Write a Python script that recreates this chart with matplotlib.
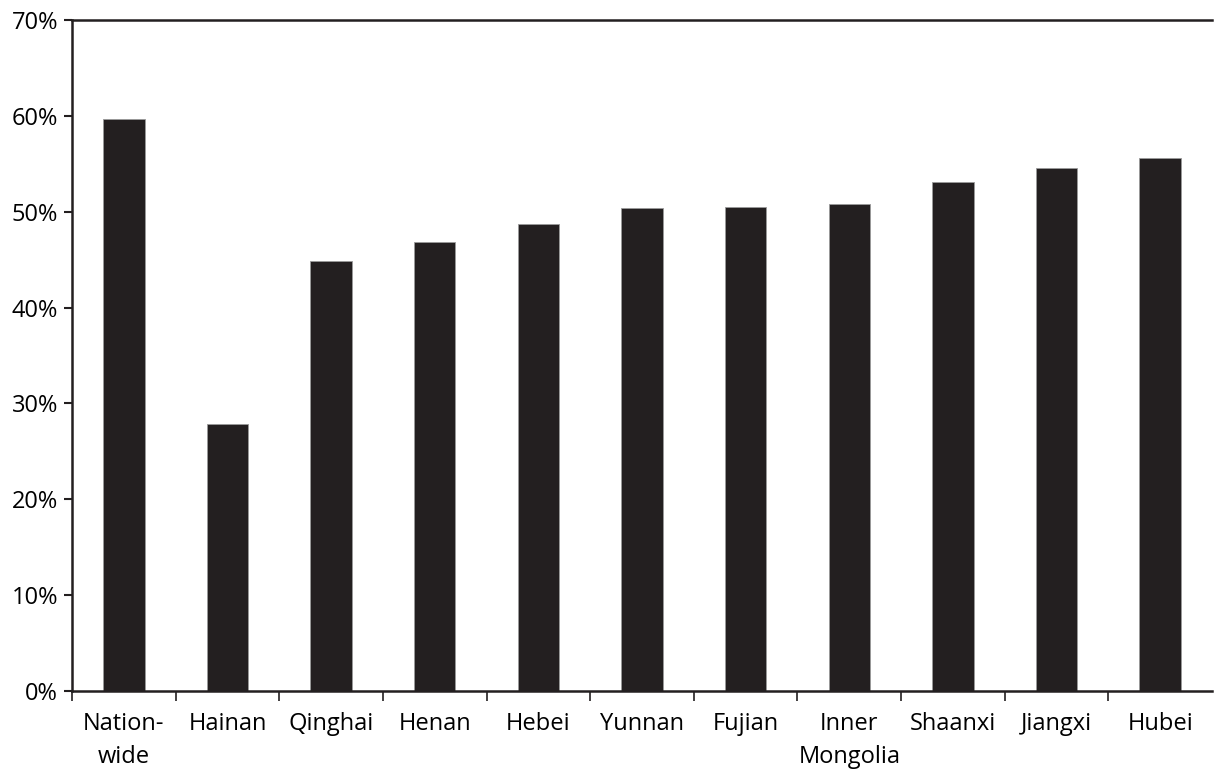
import matplotlib.pyplot as plt
import numpy as np

regions = ['Nation-\nwide', 'Hainan', 'Qinghai', 'Henan', 'Hebei', 'Yunnan',
           'Fujian', 'Inner\nMongolia', 'Shaanxi', 'Jiangxi', 'Hubei']
share = [59.7, 27.9, 44.9, 46.8, 48.7, 50.4, 50.5, 50.8, 53.1, 54.6, 55.6]
yticks = [0, 10, 20, 30, 40, 50, 60, 70]

plt.rcParams['font.family'] = ['Open Sans', 'DejaVu Sans']
dark = '#231f20'

fig = plt.figure(figsize=(12.21, 7.71), dpi=100)
ax = fig.add_axes([0.059, 0.1038, 0.9336, 0.8702])

x = np.arange(len(regions))
ax.bar(x, share, width=0.4, color=dark, edgecolor='#9a9a9a', linewidth=0.6)

ax.set_xlim(-0.5, len(regions) - 0.5)
ax.set_ylim(0, 70)
ax.set_yticks(yticks)
ax.set_yticklabels([f'{v}%' for v in yticks], fontsize=17, color='black')

# category labels centred, ticks on the boundaries between categories
ax.set_xticks(x)
ax.set_xticklabels(regions, fontsize=17, linespacing=1.5)
ax.tick_params(axis='x', which='major', length=0, pad=15)
ax.set_xticks(x - 0.5, minor=True)
ax.tick_params(axis='x', which='minor', length=7, width=1.2, color=dark, direction='out')
ax.tick_params(axis='y', length=6, width=1.5, color=dark, pad=4)

for side in ['left', 'bottom', 'top']:
    ax.spines[side].set_color(dark)
    ax.spines[side].set_linewidth(1.8)
ax.spines['right'].set_visible(False)

plt.savefig('out.png', dpi=100)
